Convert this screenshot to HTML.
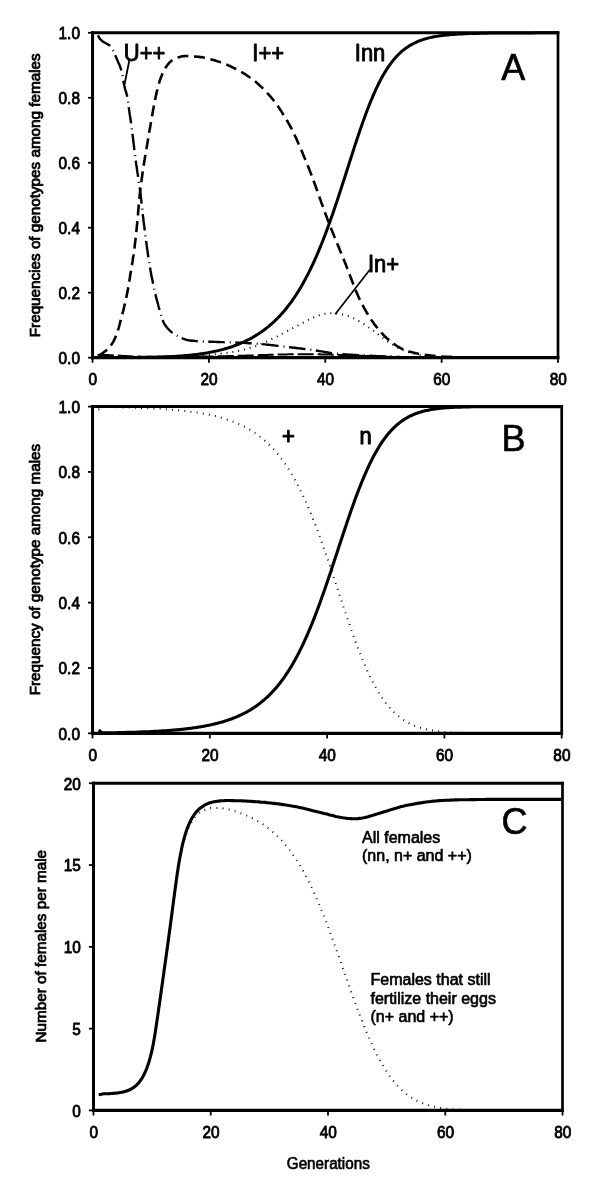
<!DOCTYPE html>
<html><head><meta charset="utf-8"><title>Figure</title>
<style>
html,body{margin:0;padding:0;background:#fff;}
body{width:600px;height:1196px;position:relative;overflow:hidden;font-family:"Liberation Sans",sans-serif;}
svg{filter:grayscale(1);}
svg text{font-family:"Liberation Sans",sans-serif;stroke:#000;stroke-width:0.65px;stroke-linejoin:round;}
.tk line{stroke:#000;}
</style></head><body>
<svg width="600" height="1196" viewBox="0 0 600 1196" style="position:absolute;left:0;top:0">
<rect width="600" height="1196" fill="#fff"/>
<g font-family="'Liberation Sans', sans-serif" fill="#000" stroke="none">
<g fill="none" stroke="#000" stroke-linejoin="round">
<path d="M150.0 357.0L151.5 357.0L153.0 357.0L154.5 357.0L156.0 357.0L157.5 356.9L159.0 356.9L160.5 356.9L162.0 356.9L163.5 356.8L165.0 356.8L166.5 356.7L168.0 356.7L169.5 356.7L171.0 356.6L172.5 356.6L174.0 356.5L175.5 356.4L177.0 356.4L178.5 356.3L180.0 356.3L181.5 356.2L183.0 356.1L184.5 356.1L186.0 356.0L187.5 355.9L189.0 355.8L190.5 355.8L192.0 355.7L193.5 355.6L195.0 355.6L196.5 355.5L198.0 355.4L199.5 355.3L201.0 355.2L202.5 355.2L204.0 355.1L205.5 355.0L207.0 354.9L208.4 354.8L209.9 354.7L211.4 354.5L212.9 354.4L214.4 354.3L215.9 354.2L217.4 354.0L218.9 353.9L220.4 353.7L221.9 353.5L223.4 353.4L224.9 353.2L226.4 353.0L227.8 352.8L229.3 352.6L230.8 352.3L232.3 352.1L233.8 351.8L235.2 351.5L236.7 351.2L238.2 350.9L239.6 350.6L241.1 350.3L242.6 349.9L244.0 349.6L245.5 349.2L246.9 348.8L248.4 348.4L249.8 348.0L251.2 347.6L252.7 347.1L254.1 346.7L255.5 346.2L256.9 345.6L258.3 345.1L259.7 344.5L261.1 343.9L262.5 343.3L263.8 342.7L265.2 342.1L266.6 341.5L267.9 340.8L269.3 340.2L270.6 339.6L272.0 338.9L273.3 338.3L274.7 337.6L276.0 337.0L277.4 336.3L278.7 335.6L280.1 335.0L281.4 334.3L282.7 333.6L284.0 332.9L285.4 332.1L286.7 331.4L288.0 330.7L289.3 330.0L290.6 329.2L291.9 328.5L293.2 327.8L294.6 327.1L295.9 326.4L297.2 325.7L298.5 325.0L299.9 324.3L301.2 323.6L302.5 322.9L303.8 322.2L305.2 321.5L306.5 320.8L307.8 320.1L309.2 319.4L310.5 318.7L311.9 318.1L313.2 317.5L314.6 316.9L316.0 316.4L317.4 315.9L318.9 315.4L320.3 315.0L321.7 314.6L323.2 314.2L324.6 313.8L326.1 313.6L327.6 313.3L329.1 313.2L330.5 313.2L332.0 313.2L333.5 313.2L335.0 313.4L336.5 313.5L338.0 313.7L339.5 313.9L341.0 314.2L342.4 314.5L343.9 314.8L345.3 315.2L346.8 315.6L348.2 316.1L349.6 316.6L351.0 317.2L352.3 317.8L353.7 318.4L355.1 319.1L356.4 319.8L357.7 320.5L359.0 321.2L360.3 321.9L361.6 322.7L362.9 323.5L364.1 324.3L365.4 325.1L366.6 326.0L367.9 326.8L369.1 327.7L370.3 328.5L371.6 329.4L372.8 330.2L374.0 331.1L375.2 332.0L376.4 332.9L377.6 333.8L378.8 334.7L380.0 335.6L381.2 336.6L382.4 337.5L383.6 338.4L384.8 339.3L386.0 340.2L387.2 341.0L388.4 341.9L389.7 342.7L390.9 343.6L392.2 344.4L393.5 345.1L394.8 345.9L396.0 346.7L397.4 347.4L398.7 348.1L400.0 348.8L401.4 349.4L402.7 350.0L404.1 350.6L405.5 351.1L406.9 351.6L408.4 352.1L409.8 352.6L411.2 353.0L412.7 353.4L414.1 353.7L415.6 354.1L417.1 354.4L418.5 354.7L420.0 355.0L421.5 355.3L422.9 355.5L424.4 355.8L425.9 356.0L427.4 356.2L428.9 356.4L429.9 356.5" stroke-width="2.0" stroke-dasharray="1 4.9" stroke="#000"/>
<path d="M97.9 35.4L98.6 36.7L99.4 38.0L100.3 39.2L101.3 40.3L102.4 41.2L103.7 42.1L105.0 42.8L106.3 43.5L107.6 44.2L108.9 45.0L110.0 45.9L111.0 47.0L111.9 48.2L112.6 49.5L113.3 50.9L114.0 52.2L114.6 53.6L115.2 55.0L115.7 56.3L116.3 57.7L116.9 59.1L117.5 60.5L118.1 61.9L118.7 63.2L119.3 64.6L119.9 66.0L120.4 67.4L120.9 68.8L121.3 70.2L121.8 71.7L122.1 73.1L122.4 74.6L122.7 76.1L122.9 77.6L123.1 79.0L123.3 80.5L123.6 82.0L123.8 83.5L124.1 85.0L124.5 86.4L124.8 87.9L125.2 89.3L125.7 90.8L126.1 92.2L126.5 93.6L126.9 95.1L127.2 96.6L127.5 98.0L127.7 99.5L127.9 101.0L128.1 102.5L128.3 104.0L128.5 105.5L128.7 106.9L128.9 108.4L129.1 109.9L129.3 111.4L129.5 112.9L129.7 114.4L130.0 115.8L130.2 117.3L130.4 118.8L130.7 120.3L130.9 121.8L131.1 123.3L131.3 124.8L131.5 126.2L131.7 127.7L131.9 129.2L132.1 130.7L132.3 132.2L132.5 133.7L132.6 135.2L132.8 136.7L133.0 138.1L133.2 139.6L133.4 141.1L133.5 142.6L133.7 144.1L133.9 145.6L134.1 147.1L134.2 148.6L134.4 150.1L134.6 151.5L134.8 153.0L135.0 154.5L135.2 156.0L135.3 157.5L135.5 159.0L135.7 160.5L135.9 162.0L136.1 163.5L136.3 164.9L136.6 166.4L136.8 167.9L137.0 169.4L137.2 170.9L137.4 172.4L137.7 173.8L137.9 175.3L138.1 176.8L138.3 178.3L138.6 179.8L138.8 181.3L139.0 182.7L139.2 184.2L139.4 185.7L139.6 187.2L139.8 188.7L140.0 190.2L140.2 191.7L140.4 193.1L140.6 194.6L140.7 196.1L140.9 197.6L141.1 199.1L141.3 200.6L141.4 202.1L141.6 203.6L141.8 205.1L141.9 206.6L142.1 208.0L142.2 209.5L142.4 211.0L142.6 212.5L142.7 214.0L142.9 215.5L143.1 217.0L143.3 218.5L143.4 220.0L143.6 221.5L143.8 222.9L144.0 224.4L144.2 225.9L144.4 227.4L144.6 228.9L144.7 230.4L144.9 231.9L145.1 233.4L145.3 234.9L145.5 236.3L145.7 237.8L145.9 239.3L146.1 240.8L146.3 242.3L146.5 243.8L146.7 245.3L146.9 246.8L147.1 248.2L147.3 249.7L147.5 251.2L147.7 252.7L147.9 254.2L148.1 255.7L148.3 257.1L148.6 258.6L148.8 260.1L149.0 261.6L149.3 263.1L149.5 264.6L149.8 266.0L150.0 267.5L150.3 269.0L150.5 270.5L150.8 271.9L151.1 273.4L151.3 274.9L151.6 276.4L151.9 277.8L152.2 279.3L152.5 280.8L152.8 282.3L153.1 283.7L153.4 285.2L153.7 286.7L154.0 288.1L154.3 289.6L154.7 291.1L155.0 292.5L155.3 294.0L155.7 295.4L156.0 296.9L156.4 298.4L156.8 299.8L157.2 301.3L157.6 302.7L158.0 304.2L158.3 305.6L158.7 307.0L159.1 308.5L159.5 309.9L159.9 311.4L160.4 312.8L160.8 314.3L161.2 315.7L161.7 317.1L162.1 318.5L162.6 320.0L163.2 321.4L163.8 322.7L164.5 324.1L165.3 325.3L166.2 326.5L167.1 327.7L168.1 328.8L169.1 329.9L170.2 331.0L171.3 331.9L172.5 332.9L173.7 333.7L175.0 334.6L176.3 335.3L177.6 336.0L178.9 336.7L180.3 337.4L181.6 338.0L183.0 338.6L184.4 339.1L185.8 339.6L187.3 340.0L188.8 340.3L190.2 340.5L191.7 340.7L193.2 340.8L194.7 340.9L196.2 341.1L197.7 341.2L199.2 341.3L200.7 341.3L202.2 341.4L203.7 341.5L205.2 341.6L206.7 341.6L208.2 341.7L209.7 341.7L211.2 341.8L212.7 341.8L214.2 341.9L215.7 341.9L217.2 342.0L218.7 342.0L220.2 342.1L221.7 342.1L223.2 342.1L224.7 342.2L226.2 342.2L227.7 342.3L229.2 342.3L230.7 342.4L232.2 342.4L233.7 342.5L235.2 342.5L236.7 342.6L238.2 342.6L239.7 342.7L241.2 342.8L242.7 342.8L244.2 342.9L245.7 343.0L247.2 343.1L248.7 343.2L250.2 343.3L251.7 343.4L253.2 343.5L254.6 343.6L256.1 343.7L257.6 343.8L259.1 343.9L260.6 344.0L262.1 344.1L263.6 344.3L265.1 344.4L266.6 344.6L268.1 344.7L269.6 344.9L271.1 345.1L272.6 345.2L274.1 345.4L275.5 345.6L277.0 345.8L278.5 345.9L280.0 346.1L281.5 346.3L283.0 346.5L284.5 346.6L286.0 346.8L287.5 347.0L289.0 347.2L290.4 347.3L291.9 347.5L293.4 347.7L294.9 347.8L296.4 348.0L297.9 348.2L299.4 348.4L300.9 348.5L302.4 348.7L303.9 348.9L305.3 349.1L306.8 349.3L308.3 349.5L309.8 349.6L311.3 349.8L312.8 350.0L314.3 350.3L315.7 350.5L317.2 350.7L318.7 350.9L320.2 351.2L321.7 351.4L323.1 351.7L324.6 352.0L326.1 352.2L327.6 352.4L329.1 352.7L330.6 352.9L332.0 353.1L333.5 353.3L335.0 353.5L336.5 353.6L338.0 353.8L339.5 353.9L341.0 354.0L342.5 354.2L344.0 354.3L345.5 354.4L347.0 354.5L348.5 354.6L350.0 354.7L351.5 354.8L353.0 354.9L354.5 355.0L356.0 355.0L357.4 355.1L358.9 355.2L360.4 355.3L361.9 355.4L363.4 355.4L364.9 355.5L366.4 355.6L367.9 355.7L369.4 355.7L370.9 355.8L372.4 355.9L373.9 355.9L375.4 356.0L376.9 356.1L378.4 356.2L379.9 356.2L381.4 356.3L382.9 356.4L384.4 356.4L385.9 356.5L387.4 356.5L388.9 356.6L390.4 356.7L391.9 356.7L393.4 356.8L394.9 356.8L396.4 356.9L397.9 356.9L399.4 357.0L399.9 357.0" stroke-width="2.4" stroke-dasharray="16.5 5 1 4.5" stroke-dashoffset="0"/>
<path d="M97.8 355.5L99.2 355.0L100.6 354.3L101.9 353.6L103.1 352.8L104.3 351.9L105.5 351.0L106.6 350.0L107.7 349.0L108.8 347.9L109.8 346.8L110.7 345.6L111.6 344.4L112.4 343.1L113.2 341.9L113.9 340.5L114.6 339.2L115.2 337.8L115.7 336.4L116.3 335.0L116.8 333.6L117.3 332.2L117.8 330.8L118.2 329.4L118.7 327.9L119.1 326.5L119.5 325.0L119.8 323.6L120.2 322.1L120.6 320.7L121.0 319.2L121.4 317.8L121.8 316.3L122.2 314.9L122.5 313.4L122.9 312.0L123.3 310.5L123.6 309.1L124.0 307.6L124.3 306.2L124.7 304.7L125.0 303.2L125.4 301.8L125.7 300.3L126.0 298.9L126.3 297.4L126.6 295.9L126.9 294.5L127.2 293.0L127.5 291.5L127.8 290.0L128.1 288.6L128.3 287.1L128.6 285.6L128.8 284.1L129.0 282.6L129.3 281.2L129.5 279.7L129.8 278.2L130.0 276.7L130.2 275.2L130.5 273.8L130.7 272.3L131.0 270.8L131.3 269.3L131.5 267.8L131.7 266.4L132.0 264.9L132.2 263.4L132.5 261.9L132.7 260.4L132.9 259.0L133.1 257.5L133.4 256.0L133.6 254.5L133.8 253.0L134.0 251.5L134.2 250.0L134.4 248.6L134.6 247.1L134.8 245.6L134.9 244.1L135.1 242.6L135.3 241.1L135.5 239.6L135.6 238.1L135.8 236.6L135.9 235.2L136.1 233.7L136.3 232.2L136.4 230.7L136.6 229.2L136.7 227.7L136.9 226.2L137.0 224.7L137.2 223.2L137.3 221.7L137.4 220.2L137.6 218.7L137.7 217.2L137.8 215.7L138.0 214.2L138.1 212.8L138.2 211.3L138.3 209.8L138.5 208.3L138.6 206.8L138.7 205.3L138.9 203.8L139.0 202.3L139.2 200.8L139.3 199.3L139.4 197.8L139.6 196.3L139.7 194.8L139.9 193.3L140.1 191.8L140.3 190.4L140.4 188.9L140.6 187.4L140.8 185.9L141.0 184.4L141.2 182.9L141.4 181.4L141.6 179.9L141.8 178.5L142.0 177.0L142.2 175.5L142.4 174.0L142.6 172.5L142.8 171.0L143.1 169.5L143.3 168.1L143.5 166.6L143.7 165.1L144.0 163.6L144.2 162.1L144.4 160.7L144.7 159.2L144.9 157.7L145.2 156.2L145.4 154.7L145.7 153.3L145.9 151.8L146.2 150.3L146.4 148.8L146.7 147.3L146.9 145.9L147.2 144.4L147.4 142.9L147.7 141.4L147.9 139.9L148.2 138.5L148.4 137.0L148.7 135.5L148.9 134.0L149.2 132.6L149.4 131.1L149.7 129.6L150.0 128.1L150.2 126.6L150.5 125.2L150.7 123.7L151.0 122.2L151.2 120.7L151.5 119.3L151.7 117.8L152.0 116.3L152.3 114.8L152.5 113.3L152.8 111.9L153.0 110.4L153.3 108.9L153.6 107.4L153.8 106.0L154.1 104.5L154.4 103.0L154.7 101.5L155.0 100.1L155.3 98.6L155.6 97.1L155.9 95.7L156.3 94.2L156.6 92.7L156.9 91.3L157.3 89.8L157.6 88.4L158.0 86.9L158.4 85.5L158.8 84.0L159.2 82.6L159.6 81.1L160.1 79.7L160.6 78.3L161.2 76.9L161.7 75.5L162.3 74.1L162.9 72.8L163.5 71.4L164.2 70.1L164.9 68.8L165.7 67.5L166.6 66.2L167.4 65.0L168.4 63.8L169.4 62.7L170.4 61.7L171.6 60.7L172.8 59.9L174.1 59.2L175.5 58.5L176.9 57.9L178.2 57.4L179.7 56.9L181.1 56.5L182.6 56.3L184.1 56.1L185.6 56.0L187.1 56.0L188.6 56.1L190.1 56.2L191.6 56.2L193.1 56.4L194.5 56.5L196.0 56.6L197.5 56.8L199.0 56.9L200.5 57.1L202.0 57.3L203.5 57.5L205.0 57.8L206.4 58.2L207.9 58.5L209.3 58.9L210.8 59.3L212.2 59.7L213.7 60.1L215.1 60.5L216.5 61.0L218.0 61.4L219.4 61.9L220.8 62.4L222.2 62.9L223.6 63.4L225.0 64.0L226.4 64.5L227.8 65.1L229.1 65.7L230.5 66.3L231.9 67.0L233.2 67.6L234.6 68.3L235.9 69.0L237.2 69.7L238.6 70.4L239.9 71.1L241.2 71.9L242.5 72.6L243.7 73.4L245.0 74.2L246.3 75.0L247.5 75.8L248.8 76.7L250.0 77.5L251.2 78.4L252.4 79.3L253.6 80.2L254.8 81.1L256.0 82.1L257.1 83.1L258.2 84.0L259.3 85.1L260.4 86.1L261.5 87.1L262.6 88.1L263.7 89.2L264.7 90.3L265.8 91.4L266.8 92.5L267.8 93.6L268.8 94.7L269.8 95.8L270.8 96.9L271.7 98.1L272.7 99.2L273.6 100.4L274.5 101.6L275.5 102.8L276.3 104.0L277.2 105.2L278.1 106.4L278.9 107.7L279.8 108.9L280.6 110.2L281.4 111.4L282.2 112.7L283.0 114.0L283.8 115.2L284.6 116.5L285.4 117.8L286.2 119.1L286.9 120.4L287.7 121.7L288.4 123.0L289.1 124.3L289.9 125.6L290.6 126.9L291.3 128.2L292.0 129.6L292.6 130.9L293.3 132.3L294.0 133.6L294.6 135.0L295.2 136.3L295.9 137.7L296.5 139.0L297.1 140.4L297.7 141.8L298.3 143.2L298.9 144.5L299.5 145.9L300.1 147.3L300.7 148.7L301.3 150.0L301.9 151.4L302.5 152.8L303.0 154.2L303.6 155.6L304.2 157.0L304.8 158.3L305.3 159.7L305.9 161.1L306.5 162.5L307.0 163.9L307.6 165.3L308.2 166.7L308.7 168.1L309.3 169.5L309.8 170.9L310.4 172.3L310.9 173.7L311.5 175.1L312.0 176.5L312.5 177.9L313.0 179.3L313.5 180.7L314.1 182.1L314.6 183.5L315.1 184.9L315.6 186.3L316.1 187.7L316.6 189.1L317.1 190.6L317.6 192.0L318.1 193.4L318.6 194.8L319.1 196.2L319.6 197.6L320.1 199.0L320.6 200.4L321.1 201.9L321.6 203.3L322.2 204.7L322.7 206.1L323.2 207.5L323.7 208.9L324.2 210.3L324.7 211.7L325.2 213.1L325.7 214.6L326.3 216.0L326.8 217.4L327.3 218.8L327.9 220.2L328.4 221.6L328.9 223.0L329.5 224.4L330.0 225.8L330.6 227.2L331.1 228.5L331.7 229.9L332.2 231.3L332.8 232.7L333.4 234.1L333.9 235.5L334.5 236.9L335.1 238.3L335.6 239.7L336.2 241.1L336.8 242.4L337.3 243.8L337.9 245.2L338.5 246.6L339.1 248.0L339.6 249.4L340.2 250.8L340.8 252.2L341.3 253.5L341.9 254.9L342.5 256.3L343.1 257.7L343.6 259.1L344.2 260.5L344.7 261.9L345.3 263.3L345.9 264.7L346.4 266.1L346.9 267.5L347.5 268.9L348.0 270.3L348.6 271.7L349.1 273.1L349.6 274.5L350.1 275.9L350.7 277.3L351.2 278.7L351.7 280.1L352.3 281.5L352.8 282.9L353.3 284.3L353.9 285.7L354.4 287.1L355.0 288.5L355.5 289.9L356.1 291.3L356.7 292.6L357.3 294.0L357.9 295.4L358.5 296.8L359.1 298.1L359.8 299.5L360.4 300.8L361.1 302.2L361.8 303.5L362.5 304.8L363.2 306.1L363.9 307.5L364.6 308.8L365.4 310.1L366.1 311.4L366.8 312.7L367.6 314.0L368.4 315.3L369.2 316.5L370.0 317.8L370.8 319.1L371.6 320.3L372.5 321.5L373.4 322.8L374.2 324.0L375.1 325.2L376.1 326.4L377.0 327.5L377.9 328.7L378.9 329.9L379.9 331.0L380.9 332.1L381.9 333.2L382.9 334.3L383.9 335.4L385.0 336.5L386.1 337.5L387.2 338.6L388.3 339.5L389.4 340.5L390.6 341.5L391.8 342.4L393.0 343.3L394.2 344.1L395.4 345.0L396.7 345.8L398.0 346.6L399.2 347.4L400.6 348.1L401.9 348.7L403.3 349.3L404.7 349.9L406.1 350.4L407.5 350.9L408.9 351.4L410.4 351.8L411.8 352.2L413.3 352.6L414.7 352.9L416.2 353.3L417.7 353.6L419.1 353.8L420.6 354.1L422.1 354.4L423.6 354.6L425.0 354.9L426.5 355.1L428.0 355.3L429.5 355.4L431.0 355.6L432.5 355.8L434.0 355.9L435.5 356.0L437.0 356.2L438.5 356.3L440.0 356.4L441.5 356.5L443.0 356.6L444.5 356.7L445.9 356.7L447.4 356.8L448.9 356.9L450.4 356.9L451.9 357.0L453.4 357.0L454.9 357.1L456.4 357.1L457.9 357.2L459.4 357.2L459.9 357.2" stroke-width="2.6" stroke-dasharray="11 5.7"/>
<path d="M97.8 354.9L99.3 354.9L100.8 354.9L102.3 355.0L103.8 355.0L105.3 355.0L106.8 355.1L108.3 355.1L109.8 355.2L111.3 355.2L112.8 355.3L114.3 355.4L115.8 355.4L117.3 355.5L118.8 355.6L120.3 355.7L121.8 355.8L123.3 355.9L124.8 356.0L126.3 356.1L127.8 356.2L129.3 356.2L130.8 356.3L132.3 356.4L133.8 356.4L135.3 356.5L136.8 356.5L138.3 356.6L139.8 356.6L141.3 356.7L142.8 356.7L144.3 356.7L145.8 356.8L147.3 356.8L148.8 356.8L150.3 356.8L151.8 356.8L153.3 356.8L154.8 356.8L156.3 356.8L157.8 356.8L159.3 356.8L160.8 356.8L162.3 356.8L163.8 356.8L165.3 356.8L166.8 356.8L168.3 356.8L169.8 356.8L171.3 356.8L172.8 356.8L174.3 356.7L175.8 356.7L177.3 356.7L178.8 356.7L180.3 356.7L181.8 356.7L183.3 356.7L184.8 356.7L186.3 356.7L187.8 356.7L189.3 356.7L190.8 356.7L192.3 356.7L193.8 356.6L195.3 356.6L196.8 356.6L198.3 356.6L199.8 356.6L201.3 356.6L202.8 356.6L204.3 356.6L205.8 356.5L207.3 356.5L208.8 356.5L210.3 356.5L211.8 356.5L213.3 356.4L214.8 356.4L216.3 356.4L217.8 356.3L219.3 356.3L220.8 356.3L222.3 356.2L223.8 356.2L225.3 356.2L226.8 356.1L228.3 356.1L229.7 356.1L231.2 356.0L232.7 356.0L234.2 355.9L235.7 355.9L237.2 355.9L238.7 355.8L240.2 355.8L241.7 355.7L243.2 355.7L244.7 355.7L246.2 355.6L247.7 355.6L249.2 355.5L250.7 355.5L252.2 355.4L253.7 355.4L255.2 355.3L256.7 355.2L258.2 355.2L259.7 355.1L261.2 355.1L262.7 355.0L264.2 355.0L265.7 354.9L267.2 354.9L268.7 354.8L270.2 354.8L271.7 354.7L273.2 354.7L274.7 354.7L276.2 354.6L277.7 354.6L279.2 354.5L280.7 354.5L282.2 354.4L283.7 354.4L285.2 354.4L286.7 354.4L288.2 354.3L289.7 354.3L291.2 354.3L292.7 354.3L294.2 354.3L295.7 354.3L297.2 354.2L298.7 354.2L300.2 354.2L301.7 354.2L303.2 354.2L304.7 354.2L306.2 354.2L307.7 354.2L309.2 354.2L310.7 354.2L312.2 354.2L313.7 354.2L315.2 354.3L316.7 354.3L318.2 354.3L319.7 354.3L321.2 354.4L322.7 354.4L324.2 354.4L325.7 354.5L327.2 354.5L328.7 354.6L330.2 354.6L331.7 354.7L333.2 354.7L334.7 354.7L336.2 354.8L337.7 354.8L339.2 354.9L340.7 354.9L342.2 355.0L343.7 355.1L345.2 355.1L346.7 355.2L348.2 355.2L349.7 355.3L351.2 355.3L352.7 355.4L354.2 355.5L355.7 355.5L357.2 355.6L358.7 355.7L360.2 355.7L361.7 355.8L363.2 355.8L364.7 355.9L366.2 356.0L367.7 356.0L369.2 356.1L370.7 356.2L372.2 356.2L373.7 356.3L375.2 356.3L376.7 356.4L378.2 356.4L379.7 356.5L381.2 356.5L382.7 356.6L384.2 356.6L385.7 356.7L387.2 356.7L388.7 356.7L390.2 356.8L391.7 356.8L393.2 356.9L394.7 356.9L396.2 356.9L397.7 357.0L399.2 357.0L400.7 357.0L402.2 357.1L403.7 357.1L405.2 357.1L406.7 357.1L408.2 357.2L409.7 357.2L409.9 357.2" stroke-width="2.0" stroke-dasharray="16 4"/>
<path d="M98.0 357.6L99.0 357.6L100.0 357.6L101.0 357.6L102.0 357.6L103.0 357.6L104.0 357.6L105.0 357.6L106.0 357.6L107.0 357.6L108.0 357.6L109.0 357.6L110.0 357.6L111.0 357.6L112.0 357.6L113.0 357.6L114.0 357.6L115.0 357.6L116.0 357.6L117.0 357.6L118.0 357.6L119.0 357.6L120.0 357.6L121.0 357.6L122.0 357.6L123.0 357.6L124.0 357.6L125.0 357.6L126.0 357.6L127.0 357.5L128.0 357.5L129.0 357.5L130.0 357.5L131.0 357.5L132.0 357.5L133.0 357.5L134.0 357.5L135.0 357.5L136.0 357.5L137.0 357.5L138.0 357.5L139.0 357.5L140.0 357.4L141.0 357.4L142.0 357.4L143.0 357.4L144.0 357.4L145.0 357.4L146.0 357.4L147.0 357.3L148.0 357.3L149.0 357.3L150.0 357.3L151.0 357.3L152.0 357.2L153.0 357.2L154.0 357.2L155.0 357.2L156.0 357.1L157.0 357.1L158.0 357.1L159.0 357.1L160.0 357.0L161.0 357.0L162.0 357.0L163.0 356.9L164.0 356.9L165.0 356.8L166.0 356.8L167.0 356.8L168.0 356.7L169.0 356.7L170.0 356.6L171.0 356.6L172.0 356.5L173.0 356.5L174.0 356.4L175.0 356.4L176.0 356.3L177.0 356.2L178.0 356.2L179.0 356.1L180.0 356.0L181.0 356.0L182.0 355.9L183.0 355.8L184.0 355.7L185.0 355.6L186.0 355.5L187.0 355.5L188.0 355.4L189.0 355.3L190.0 355.2L191.0 355.1L192.0 355.0L193.0 354.8L194.0 354.7L195.0 354.6L196.0 354.5L197.0 354.4L198.0 354.2L199.0 354.1L200.0 354.0L201.0 353.8L202.0 353.7L203.0 353.5L204.0 353.4L205.0 353.2L206.0 353.0L207.0 352.9L208.0 352.7L209.0 352.5L210.0 352.3L211.0 352.1L212.0 351.9L213.0 351.7L214.0 351.5L215.0 351.3L216.0 351.1L217.0 350.9L218.0 350.6L219.0 350.4L220.0 350.1L221.0 349.9L222.0 349.6L223.0 349.4L224.0 349.1L225.0 348.8L226.0 348.5L227.0 348.2L228.0 347.9L229.0 347.6L230.0 347.3L231.0 347.0L232.0 346.6L233.0 346.3L234.0 345.9L235.0 345.5L236.0 345.2L237.0 344.8L238.0 344.4L239.0 344.0L240.0 343.6L241.0 343.2L242.0 342.7L243.0 342.3L244.0 341.8L245.0 341.4L246.0 340.9L247.0 340.4L248.0 339.9L249.0 339.4L250.0 338.9L251.0 338.3L252.0 337.8L253.0 337.2L254.0 336.6L255.0 336.0L256.0 335.4L257.0 334.8L258.0 334.2L259.0 333.5L260.0 332.8L261.0 332.2L262.0 331.5L263.0 330.8L264.0 330.0L265.0 329.3L266.0 328.5L267.0 327.7L268.0 326.9L269.0 326.1L270.0 325.2L271.0 324.4L272.0 323.5L273.0 322.6L274.0 321.7L275.0 320.7L276.0 319.8L277.0 318.8L278.0 317.8L279.0 316.7L280.0 315.7L281.0 314.6L282.0 313.5L283.0 312.3L284.0 311.2L285.0 310.0L286.0 308.8L287.0 307.5L288.0 306.2L289.0 304.9L290.0 303.6L291.0 302.3L292.0 300.9L293.0 299.4L294.0 298.0L295.0 296.5L296.0 295.0L297.0 293.4L298.0 291.9L299.0 290.2L300.0 288.6L301.0 286.9L302.0 285.2L303.0 283.4L304.0 281.6L305.0 279.8L306.0 277.9L307.0 276.0L308.0 274.1L309.0 272.1L310.0 270.1L311.0 268.0L312.0 265.9L313.0 263.8L314.0 261.6L315.0 259.4L316.0 257.1L317.0 254.8L318.0 252.5L319.0 250.1L320.0 247.7L321.0 245.2L322.0 242.7L323.0 240.2L324.0 237.6L325.0 235.0L326.0 232.4L327.0 229.7L328.0 227.0L329.0 224.2L330.0 221.4L331.0 218.6L332.0 215.8L333.0 212.9L334.0 210.0L335.0 207.0L336.0 204.1L337.0 201.1L338.0 198.1L339.0 195.0L340.0 192.0L341.0 188.9L342.0 185.8L343.0 182.7L344.0 179.6L345.0 176.5L346.0 173.3L347.0 170.2L348.0 167.1L349.0 163.9L350.0 160.8L351.0 157.7L352.0 154.6L353.0 151.5L354.0 148.4L355.0 145.3L356.0 142.3L357.0 139.2L358.0 136.2L359.0 133.3L360.0 130.3L361.0 127.4L362.0 124.5L363.0 121.7L364.0 118.9L365.0 116.2L366.0 113.5L367.0 110.8L368.0 108.2L369.0 105.6L370.0 103.1L371.0 100.7L372.0 98.3L373.0 95.9L374.0 93.6L375.0 91.4L376.0 89.2L377.0 87.1L378.0 85.0L379.0 83.0L380.0 81.0L381.0 79.1L382.0 77.3L383.0 75.5L384.0 73.8L385.0 72.1L386.0 70.5L387.0 68.9L388.0 67.4L389.0 65.9L390.0 64.5L391.0 63.2L392.0 61.8L393.0 60.6L394.0 59.4L395.0 58.2L396.0 57.1L397.0 56.0L398.0 55.0L399.0 54.0L400.0 53.0L401.0 52.1L402.0 51.2L403.0 50.4L404.0 49.6L405.0 48.8L406.0 48.1L407.0 47.4L408.0 46.7L409.0 46.1L410.0 45.4L411.0 44.9L412.0 44.3L413.0 43.8L414.0 43.2L415.0 42.8L416.0 42.3L417.0 41.8L418.0 41.4L419.0 41.0L420.0 40.6L421.0 40.3L422.0 39.9L423.0 39.6L424.0 39.2L425.0 38.9L426.0 38.7L427.0 38.4L428.0 38.1L429.0 37.9L430.0 37.6L431.0 37.4L432.0 37.2L433.0 37.0L434.0 36.8L435.0 36.6L436.0 36.4L437.0 36.3L438.0 36.1L439.0 35.9L440.0 35.8L441.0 35.7L442.0 35.5L443.0 35.4L444.0 35.3L445.0 35.2L446.0 35.1L447.0 35.0L448.0 34.9L449.0 34.8L450.0 34.7L451.0 34.6L452.0 34.5L453.0 34.4L454.0 34.4L455.0 34.3L456.0 34.2L457.0 34.2L458.0 34.1L459.0 34.1L460.0 34.0L461.0 33.9L462.0 33.9L463.0 33.9L464.0 33.8L465.0 33.8L466.0 33.7L467.0 33.7L468.0 33.6L469.0 33.6L470.0 33.6L471.0 33.5L472.0 33.5L473.0 33.5L474.0 33.5L475.0 33.4L476.0 33.4L477.0 33.4L478.0 33.4L479.0 33.3L480.0 33.3L481.0 33.3L482.0 33.3L483.0 33.2L484.0 33.2L485.0 33.2L486.0 33.2L487.0 33.2L488.0 33.2L489.0 33.1L490.0 33.1L491.0 33.1L492.0 33.1L493.0 33.1L494.0 33.1L495.0 33.1L496.0 33.1L497.0 33.0L498.0 33.0L499.0 33.0L500.0 33.0L501.0 33.0L502.0 33.0L503.0 33.0L504.0 33.0L505.0 33.0L506.0 33.0L507.0 33.0L508.0 33.0L509.0 32.9L510.0 32.9L511.0 32.9L512.0 32.9L513.0 32.9L514.0 32.9L515.0 32.9L516.0 32.9L517.0 32.9L518.0 32.9L519.0 32.9L520.0 32.9L521.0 32.9L522.0 32.9L523.0 32.9L524.0 32.9L525.0 32.9L526.0 32.9L527.0 32.9L528.0 32.9L529.0 32.9L530.0 32.9L531.0 32.9L532.0 32.9L533.0 32.9L534.0 32.9L535.0 32.8L536.0 32.8L537.0 32.8L538.0 32.8L539.0 32.8L540.0 32.8L541.0 32.8L542.0 32.8L543.0 32.8L544.0 32.8L545.0 32.8L546.0 32.8L547.0 32.8L548.0 32.8L549.0 32.8L550.0 32.8L551.0 32.8L552.0 32.8L553.0 32.8L554.0 32.8L555.0 32.8L556.0 32.8L557.0 32.8" stroke-width="3.0"/>
<line x1="129.2" y1="61" x2="124.5" y2="84.5" stroke-width="1.8"/>
<line x1="370" y1="269.5" x2="335.2" y2="314.2" stroke-width="1.7"/>
<path d="M98.5 409.6L100.2 408.7L102.0 407.3L104.0 407.0L105.0 407.1L106.0 407.1L107.0 407.1L108.0 407.1L109.0 407.1L110.0 407.1L111.0 407.1L112.0 407.2L113.0 407.2L114.0 407.2L115.0 407.2L116.0 407.2L117.0 407.2L118.0 407.3L119.0 407.3L120.0 407.3L121.0 407.3L122.0 407.4L123.0 407.4L124.0 407.4L125.0 407.4L126.0 407.4L127.0 407.5L128.0 407.5L129.0 407.5L130.0 407.6L131.0 407.6L132.0 407.6L133.0 407.6L134.0 407.7L135.0 407.7L136.0 407.7L137.0 407.8L138.0 407.8L139.0 407.8L140.0 407.9L141.0 407.9L142.0 408.0L143.0 408.0L144.0 408.0L145.0 408.1L146.0 408.1L147.0 408.2L148.0 408.2L149.0 408.2L150.0 408.3L151.0 408.3L152.0 408.4L153.0 408.4L154.0 408.5L155.0 408.5L156.0 408.6L157.0 408.7L158.0 408.7L159.0 408.8L160.0 408.8L161.0 408.9L162.0 409.0L163.0 409.0L164.0 409.1L165.0 409.2L166.0 409.2L167.0 409.3L168.0 409.4L169.0 409.4L170.0 409.5L171.0 409.6L172.0 409.7L173.0 409.8L174.0 409.9L175.0 409.9L176.0 410.0L177.0 410.1L178.0 410.2L179.0 410.3L180.0 410.4L181.0 410.5L182.0 410.6L183.0 410.7L184.0 410.8L185.0 410.9L186.0 411.1L187.0 411.2L188.0 411.3L189.0 411.4L190.0 411.6L191.0 411.7L192.0 411.8L193.0 412.0L194.0 412.1L195.0 412.2L196.0 412.4L197.0 412.5L198.0 412.7L199.0 412.9L200.0 413.0L201.0 413.2L202.0 413.4L203.0 413.5L204.0 413.7L205.0 413.9L206.0 414.1L207.0 414.3L208.0 414.5L209.0 414.7L210.0 414.9L211.0 415.1L212.0 415.3L213.0 415.6L214.0 415.8L215.0 416.0L216.0 416.3L217.0 416.5L218.0 416.8L219.0 417.1L220.0 417.3L221.0 417.6L222.0 417.9L223.0 418.2L224.0 418.5L225.0 418.8L226.0 419.1L227.0 419.5L228.0 419.8L229.0 420.1L230.0 420.5L231.0 420.8L232.0 421.2L233.0 421.6L234.0 422.0L235.0 422.4L236.0 422.8L237.0 423.2L238.0 423.7L239.0 424.1L240.0 424.6L241.0 425.0L242.0 425.5L243.0 426.0L244.0 426.5L245.0 427.0L246.0 427.6L247.0 428.1L248.0 428.7L249.0 429.2L250.0 429.8L251.0 430.4L252.0 431.1L253.0 431.7L254.0 432.4L255.0 433.0L256.0 433.7L257.0 434.4L258.0 435.2L259.0 435.9L260.0 436.7L261.0 437.5L262.0 438.3L263.0 439.1L264.0 440.0L265.0 440.8L266.0 441.7L267.0 442.6L268.0 443.6L269.0 444.5L270.0 445.5L271.0 446.6L272.0 447.6L273.0 448.7L274.0 449.8L275.0 450.9L276.0 452.0L277.0 453.2L278.0 454.4L279.0 455.7L280.0 456.9L281.0 458.2L282.0 459.6L283.0 460.9L284.0 462.3L285.0 463.7L286.0 465.2L287.0 466.7L288.0 468.2L289.0 469.8L290.0 471.4L291.0 473.0L292.0 474.7L293.0 476.4L294.0 478.2L295.0 480.0L296.0 481.8L297.0 483.6L298.0 485.5L299.0 487.5L300.0 489.5L301.0 491.5L302.0 493.5L303.0 495.6L304.0 497.8L305.0 500.0L306.0 502.2L307.0 504.4L308.0 506.7L309.0 509.1L310.0 511.5L311.0 513.9L312.0 516.3L313.0 518.8L314.0 521.3L315.0 523.9L316.0 526.5L317.0 529.1L318.0 531.8L319.0 534.5L320.0 537.2L321.0 540.0L322.0 542.8L323.0 545.6L324.0 548.5L325.0 551.3L326.0 554.2L327.0 557.2L328.0 560.1L329.0 563.1L330.0 566.0L331.0 569.0L332.0 572.1L333.0 575.1L334.0 578.1L335.0 581.1L336.0 584.2L337.0 587.2L338.0 590.3L339.0 593.3L340.0 596.4L341.0 599.4L342.0 602.5L343.0 605.5L344.0 608.5L345.0 611.5L346.0 614.5L347.0 617.4L348.0 620.4L349.0 623.3L350.0 626.2L351.0 629.1L352.0 631.9L353.0 634.7L354.0 637.5L355.0 640.3L356.0 643.0L357.0 645.6L358.0 648.3L359.0 650.9L360.0 653.4L361.0 655.9L362.0 658.4L363.0 660.8L364.0 663.2L365.0 665.5L366.0 667.8L367.0 670.1L368.0 672.3L369.0 674.4L370.0 676.5L371.0 678.5L372.0 680.5L373.0 682.5L374.0 684.4L375.0 686.2L376.0 688.0L377.0 689.7L378.0 691.4L379.0 693.1L380.0 694.7L381.0 696.2L382.0 697.7L383.0 699.2L384.0 700.6L385.0 702.0L386.0 703.3L387.0 704.6L388.0 705.8L389.0 707.0L390.0 708.1L391.0 709.2L392.0 710.3L393.0 711.3L394.0 712.3L395.0 713.3L396.0 714.2L397.0 715.1L398.0 715.9L399.0 716.7L400.0 717.5L401.0 718.3L402.0 719.0L403.0 719.7L404.0 720.3L405.0 721.0L406.0 721.6L407.0 722.1L408.0 722.7L409.0 723.2L410.0 723.7L411.0 724.2L412.0 724.7L413.0 725.1L414.0 725.6L415.0 726.0L416.0 726.3L417.0 726.7L418.0 727.1L419.0 727.4L420.0 727.7L421.0 728.0L422.0 728.3L423.0 728.6L424.0 728.8L425.0 729.1L426.0 729.3L427.0 729.5L428.0 729.7L429.0 729.9L430.0 730.1L431.0 730.3L432.0 730.5L433.0 730.6L434.0 730.8L435.0 730.9L436.0 731.1L437.0 731.2L438.0 731.3L439.0 731.4L440.0 731.6L441.0 731.7L442.0 731.8L443.0 731.9L444.0 731.9L445.0 732.0L446.0 732.1L447.0 732.2L448.0 732.2L449.0 732.3L450.0 732.4L451.0 732.4L452.0 732.5L453.0 732.5L454.0 732.6L455.0 732.6L456.0 732.7L457.0 732.7L458.0 732.7L459.0 732.8L460.0 732.8L461.0 732.8L462.0 732.9L463.0 732.9L464.0 732.9L465.0 732.9L466.0 733.0L467.0 733.0L468.0 733.0L469.0 733.0L470.0 733.0L471.0 733.1L472.0 733.1" stroke-width="2.0" stroke-dasharray="0.9 5.3" stroke="#000"/>
<path d="M98.5 730.3L100.2 731.2L102.0 732.6L104.0 732.9L105.0 732.8L106.0 732.8L107.0 732.8L108.0 732.8L109.0 732.8L110.0 732.8L111.0 732.8L112.0 732.7L113.0 732.7L114.0 732.7L115.0 732.7L116.0 732.7L117.0 732.7L118.0 732.6L119.0 732.6L120.0 732.6L121.0 732.6L122.0 732.5L123.0 732.5L124.0 732.5L125.0 732.5L126.0 732.5L127.0 732.4L128.0 732.4L129.0 732.4L130.0 732.3L131.0 732.3L132.0 732.3L133.0 732.3L134.0 732.2L135.0 732.2L136.0 732.2L137.0 732.1L138.0 732.1L139.0 732.1L140.0 732.0L141.0 732.0L142.0 731.9L143.0 731.9L144.0 731.9L145.0 731.8L146.0 731.8L147.0 731.7L148.0 731.7L149.0 731.7L150.0 731.6L151.0 731.6L152.0 731.5L153.0 731.5L154.0 731.4L155.0 731.4L156.0 731.3L157.0 731.2L158.0 731.2L159.0 731.1L160.0 731.1L161.0 731.0L162.0 730.9L163.0 730.9L164.0 730.8L165.0 730.7L166.0 730.7L167.0 730.6L168.0 730.5L169.0 730.5L170.0 730.4L171.0 730.3L172.0 730.2L173.0 730.1L174.0 730.0L175.0 730.0L176.0 729.9L177.0 729.8L178.0 729.7L179.0 729.6L180.0 729.5L181.0 729.4L182.0 729.3L183.0 729.2L184.0 729.1L185.0 729.0L186.0 728.8L187.0 728.7L188.0 728.6L189.0 728.5L190.0 728.3L191.0 728.2L192.0 728.1L193.0 727.9L194.0 727.8L195.0 727.7L196.0 727.5L197.0 727.4L198.0 727.2L199.0 727.0L200.0 726.9L201.0 726.7L202.0 726.5L203.0 726.4L204.0 726.2L205.0 726.0L206.0 725.8L207.0 725.6L208.0 725.4L209.0 725.2L210.0 725.0L211.0 724.8L212.0 724.6L213.0 724.3L214.0 724.1L215.0 723.9L216.0 723.6L217.0 723.4L218.0 723.1L219.0 722.8L220.0 722.6L221.0 722.3L222.0 722.0L223.0 721.7L224.0 721.4L225.0 721.1L226.0 720.8L227.0 720.4L228.0 720.1L229.0 719.8L230.0 719.4L231.0 719.1L232.0 718.7L233.0 718.3L234.0 717.9L235.0 717.5L236.0 717.1L237.0 716.7L238.0 716.2L239.0 715.8L240.0 715.3L241.0 714.9L242.0 714.4L243.0 713.9L244.0 713.4L245.0 712.9L246.0 712.3L247.0 711.8L248.0 711.2L249.0 710.7L250.0 710.1L251.0 709.5L252.0 708.8L253.0 708.2L254.0 707.5L255.0 706.9L256.0 706.2L257.0 705.5L258.0 704.7L259.0 704.0L260.0 703.2L261.0 702.4L262.0 701.6L263.0 700.8L264.0 699.9L265.0 699.1L266.0 698.2L267.0 697.3L268.0 696.3L269.0 695.4L270.0 694.4L271.0 693.3L272.0 692.3L273.0 691.2L274.0 690.1L275.0 689.0L276.0 687.9L277.0 686.7L278.0 685.5L279.0 684.2L280.0 683.0L281.0 681.7L282.0 680.3L283.0 679.0L284.0 677.6L285.0 676.2L286.0 674.7L287.0 673.2L288.0 671.7L289.0 670.1L290.0 668.5L291.0 666.9L292.0 665.2L293.0 663.5L294.0 661.7L295.0 659.9L296.0 658.1L297.0 656.3L298.0 654.4L299.0 652.4L300.0 650.4L301.0 648.4L302.0 646.4L303.0 644.3L304.0 642.1L305.0 639.9L306.0 637.7L307.0 635.5L308.0 633.2L309.0 630.8L310.0 628.4L311.0 626.0L312.0 623.6L313.0 621.1L314.0 618.6L315.0 616.0L316.0 613.4L317.0 610.8L318.0 608.1L319.0 605.4L320.0 602.7L321.0 599.9L322.0 597.1L323.0 594.3L324.0 591.4L325.0 588.6L326.0 585.7L327.0 582.7L328.0 579.8L329.0 576.8L330.0 573.9L331.0 570.9L332.0 567.8L333.0 564.8L334.0 561.8L335.0 558.8L336.0 555.7L337.0 552.7L338.0 549.6L339.0 546.6L340.0 543.5L341.0 540.5L342.0 537.4L343.0 534.4L344.0 531.4L345.0 528.4L346.0 525.4L347.0 522.5L348.0 519.5L349.0 516.6L350.0 513.7L351.0 510.8L352.0 508.0L353.0 505.2L354.0 502.4L355.0 499.6L356.0 496.9L357.0 494.3L358.0 491.6L359.0 489.0L360.0 486.5L361.0 484.0L362.0 481.5L363.0 479.1L364.0 476.7L365.0 474.4L366.0 472.1L367.0 469.8L368.0 467.6L369.0 465.5L370.0 463.4L371.0 461.4L372.0 459.4L373.0 457.4L374.0 455.5L375.0 453.7L376.0 451.9L377.0 450.2L378.0 448.5L379.0 446.8L380.0 445.2L381.0 443.7L382.0 442.2L383.0 440.7L384.0 439.3L385.0 437.9L386.0 436.6L387.0 435.3L388.0 434.1L389.0 432.9L390.0 431.8L391.0 430.7L392.0 429.6L393.0 428.6L394.0 427.6L395.0 426.6L396.0 425.7L397.0 424.8L398.0 424.0L399.0 423.2L400.0 422.4L401.0 421.6L402.0 420.9L403.0 420.2L404.0 419.6L405.0 418.9L406.0 418.3L407.0 417.8L408.0 417.2L409.0 416.7L410.0 416.2L411.0 415.7L412.0 415.2L413.0 414.8L414.0 414.3L415.0 413.9L416.0 413.6L417.0 413.2L418.0 412.8L419.0 412.5L420.0 412.2L421.0 411.9L422.0 411.6L423.0 411.3L424.0 411.1L425.0 410.8L426.0 410.6L427.0 410.4L428.0 410.2L429.0 410.0L430.0 409.8L431.0 409.6L432.0 409.4L433.0 409.3L434.0 409.1L435.0 409.0L436.0 408.8L437.0 408.7L438.0 408.6L439.0 408.5L440.0 408.3L441.0 408.2L442.0 408.1L443.0 408.0L444.0 408.0L445.0 407.9L446.0 407.8L447.0 407.7L448.0 407.7L449.0 407.6L450.0 407.5L451.0 407.5L452.0 407.4L453.0 407.4L454.0 407.3L455.0 407.3L456.0 407.2L457.0 407.2L458.0 407.2L459.0 407.1L460.0 407.1L461.0 407.1L462.0 407.0L463.0 407.0L464.0 407.0L465.0 407.0L466.0 406.9L467.0 406.9L468.0 406.9L469.0 406.9L470.0 406.9L471.0 406.8L472.0 406.8L473.0 406.8L474.0 406.8L475.0 406.8L476.0 406.8L477.0 406.8L478.0 406.8L479.0 406.7L480.0 406.7L481.0 406.7L482.0 406.7L483.0 406.7L484.0 406.7L485.0 406.7L486.0 406.7L487.0 406.7L488.0 406.7L489.0 406.7L490.0 406.7L491.0 406.7L492.0 406.7L493.0 406.7L494.0 406.7L495.0 406.7L496.0 406.7L497.0 406.6L498.0 406.6L499.0 406.6L500.0 406.6L501.0 406.6L502.0 406.6L503.0 406.6L504.0 406.6L505.0 406.6L506.0 406.6L507.0 406.6L508.0 406.6L509.0 406.6L510.0 406.6L511.0 406.6L512.0 406.6L513.0 406.6L514.0 406.6L515.0 406.6L516.0 406.6L517.0 406.6L518.0 406.6L519.0 406.6L520.0 406.6L521.0 406.6L522.0 406.6L523.0 406.6L524.0 406.6L525.0 406.6L526.0 406.6L527.0 406.6L528.0 406.6L529.0 406.6L530.0 406.6L531.0 406.6L532.0 406.6L533.0 406.6L534.0 406.6L535.0 406.6L536.0 406.6L537.0 406.6L538.0 406.6L539.0 406.6L540.0 406.6L541.0 406.6L542.0 406.6L543.0 406.6L544.0 406.6L545.0 406.6L546.0 406.6L547.0 406.6L548.0 406.6L549.0 406.6L550.0 406.6L551.0 406.6L552.0 406.6L553.0 406.6L554.0 406.6L555.0 406.6L556.0 406.6L557.0 406.6L558.0 406.6L559.0 406.6L560.0 406.6L561.0 406.6" stroke-width="3.1"/>
<path d="M98.8 1094.6L101.0 1094.3L104.0 1093.8L105.0 1093.8L106.0 1093.8L107.0 1093.8L108.0 1093.7L109.0 1093.7L110.0 1093.6L111.0 1093.6L112.0 1093.5L113.0 1093.4L114.0 1093.4L115.0 1093.3L116.0 1093.2L117.0 1093.0L118.0 1092.9L119.0 1092.8L120.0 1092.6L121.0 1092.4L122.0 1092.3L123.0 1092.0L124.0 1091.8L125.0 1091.5L126.0 1091.2L127.0 1090.9L128.0 1090.5L129.0 1090.1L130.0 1089.6L131.0 1089.1L132.0 1088.6L133.0 1087.9L134.0 1087.3L135.0 1086.5L136.0 1085.6L137.0 1084.7L138.0 1083.7L139.0 1082.5L140.0 1081.2L141.0 1079.8L142.0 1078.3L143.0 1076.5L144.0 1074.6L145.0 1072.6L146.0 1070.3L147.0 1067.7L148.0 1064.9L149.0 1061.9L150.0 1058.4L151.0 1054.6L152.0 1050.3L153.0 1045.5L154.0 1040.1L155.0 1034.2L156.0 1027.8L157.0 1021.1L158.0 1014.2L159.0 1007.3L160.0 1000.3L161.0 993.3L162.0 986.3L163.0 979.2L164.0 972.2L165.0 965.1L166.0 957.9L167.0 950.7L168.0 943.5L169.0 936.2L170.0 928.9L171.0 921.5L172.0 914.0L173.0 906.5L174.0 898.9L175.0 891.5L176.0 884.2L177.0 877.2L178.0 870.6L179.0 864.5L180.0 858.9L181.0 853.8L182.0 849.1L183.0 845.0L184.0 841.2L185.0 837.7L186.0 834.6L187.0 831.8L188.0 829.3L189.0 827.0L190.0 824.9L191.0 823.0L192.0 821.3L193.0 819.8L194.0 818.4L195.0 817.1L196.0 816.0L197.0 814.9L198.0 814.0L199.0 813.1L200.0 812.3L201.0 811.9L202.0 811.2L203.0 810.7L204.0 810.1L205.0 809.7L206.0 809.3L207.0 808.9L208.0 808.7L209.0 808.4L210.0 808.3L211.0 808.1L212.0 808.0L213.0 807.9L214.0 807.9L215.0 807.9L216.0 807.9L217.0 807.9L218.0 807.9L219.0 808.0L220.0 808.1L221.0 808.2L222.0 808.3L223.0 808.4L224.0 808.6L225.0 808.7L226.0 808.9L227.0 809.1L228.0 809.4L229.0 809.6L230.0 809.9L231.0 810.1L232.0 810.4L233.0 810.7L234.0 811.0L235.0 811.3L236.0 811.6L237.0 811.9L238.0 812.2L239.0 812.6L240.0 812.9L241.0 813.3L242.0 813.6L243.0 814.0L244.0 814.4L245.0 814.8L246.0 815.2L247.0 815.7L248.0 816.1L249.0 816.6L250.0 817.0L251.0 817.5L252.0 818.0L253.0 818.5L254.0 819.1L255.0 819.6L256.0 820.1L257.0 820.7L258.0 821.3L259.0 821.9L260.0 822.5L261.0 823.1L262.0 823.8L263.0 824.4L264.0 825.1L265.0 825.8L266.0 826.5L267.0 827.3L268.0 828.0L269.0 828.8L270.0 829.6L271.0 830.4L272.0 831.3L273.0 832.1L274.0 833.0L275.0 833.9L276.0 834.8L277.0 835.8L278.0 836.8L279.0 837.8L280.0 838.8L281.0 839.9L282.0 840.9L283.0 842.1L284.0 843.2L285.0 844.4L286.0 845.6L287.0 846.8L288.0 848.0L289.0 849.3L290.0 850.6L291.0 852.0L292.0 853.4L293.0 854.8L294.0 856.2L295.0 857.7L296.0 859.2L297.0 860.7L298.0 862.3L299.0 863.9L300.0 865.6L301.0 867.3L302.0 869.0L303.0 870.8L304.0 872.6L305.0 874.4L306.0 876.3L307.0 878.3L308.0 880.2L309.0 882.2L310.0 884.3L311.0 886.3L312.0 888.5L313.0 890.6L314.0 892.8L315.0 895.0L316.0 897.2L317.0 899.5L318.0 901.8L319.0 904.1L320.0 906.5L321.0 908.9L322.0 911.3L323.0 913.8L324.0 916.3L325.0 918.8L326.0 921.4L327.0 924.0L328.0 926.7L329.0 929.3L330.0 932.0L331.0 934.8L332.0 937.5L333.0 940.3L334.0 943.1L335.0 945.9L336.0 948.7L337.0 951.5L338.0 954.3L339.0 957.2L340.0 960.0L341.0 962.9L342.0 965.7L343.0 968.6L344.0 971.4L345.0 974.3L346.0 977.2L347.0 980.0L348.0 982.9L349.0 985.7L350.0 988.5L351.0 991.4L352.0 994.2L353.0 996.9L354.0 999.7L355.0 1002.5L356.0 1005.2L357.0 1007.9L358.0 1010.5L359.0 1013.2L360.0 1015.8L361.0 1018.4L362.0 1020.9L363.0 1023.4L364.0 1025.9L365.0 1028.3L366.0 1030.8L367.0 1033.1L368.0 1035.5L369.0 1037.8L370.0 1040.0L371.0 1042.2L372.0 1044.4L373.0 1046.6L374.0 1048.7L375.0 1050.7L376.0 1052.8L377.0 1054.7L378.0 1056.7L379.0 1058.6L380.0 1060.4L381.0 1062.2L382.0 1064.0L383.0 1065.7L384.0 1067.4L385.0 1069.0L386.0 1070.6L387.0 1072.2L388.0 1073.7L389.0 1075.1L390.0 1076.5L391.0 1077.9L392.0 1079.2L393.0 1080.5L394.0 1081.8L395.0 1083.0L396.0 1084.1L397.0 1085.3L398.0 1086.4L399.0 1087.4L400.0 1088.4L401.0 1089.4L402.0 1090.3L403.0 1091.3L404.0 1092.1L405.0 1093.0L406.0 1093.8L407.0 1094.6L408.0 1095.3L409.0 1096.0L410.0 1096.7L411.0 1097.4L412.0 1098.0L413.0 1098.6L414.0 1099.2L415.0 1099.8L416.0 1100.3L417.0 1100.8L418.0 1101.3L419.0 1101.8L420.0 1102.2L421.0 1102.6L422.0 1103.0L423.0 1103.4L424.0 1103.8L425.0 1104.1L426.0 1104.5L427.0 1104.8L428.0 1105.1L429.0 1105.4L430.0 1105.7L431.0 1105.9L432.0 1106.2L433.0 1106.4L434.0 1106.6L435.0 1106.8L436.0 1107.0L437.0 1107.2L438.0 1107.4L439.0 1107.6L440.0 1107.7L441.0 1107.9L442.0 1108.0L443.0 1108.2L444.0 1108.3L445.0 1108.4L446.0 1108.6L447.0 1108.7L448.0 1108.8L449.0 1108.9L450.0 1109.0L451.0 1109.1L452.0 1109.1L453.0 1109.2L454.0 1109.3L455.0 1109.4L456.0 1109.4L457.0 1109.5L458.0 1109.5L459.0 1109.6L460.0 1109.6L461.0 1109.7L462.0 1109.7L463.0 1109.8L464.0 1109.8L465.0 1109.9L466.0 1109.9L467.0 1109.9L468.0 1110.0L469.0 1110.0L470.0 1110.0L471.0 1110.0L472.0 1110.1L473.0 1110.1L474.0 1110.1L475.0 1110.1" stroke-width="2.0" stroke-dasharray="0.9 5.3" stroke="#000"/>
<path d="M98.8 1094.6L101.0 1094.3L104.0 1093.8L104.5 1093.8L105.0 1093.8L105.5 1093.8L106.0 1093.8L106.5 1093.8L107.0 1093.7L107.5 1093.7L108.0 1093.7L108.5 1093.7L109.0 1093.7L109.5 1093.6L110.0 1093.6L110.5 1093.6L111.0 1093.5L111.5 1093.5L112.0 1093.5L112.5 1093.4L113.0 1093.4L113.5 1093.4L114.0 1093.3L114.5 1093.3L115.0 1093.2L115.5 1093.2L116.0 1093.1L116.5 1093.1L117.0 1093.0L117.5 1093.0L118.0 1092.9L118.5 1092.8L119.0 1092.8L119.5 1092.7L120.0 1092.6L120.5 1092.5L121.0 1092.4L121.5 1092.3L122.0 1092.2L122.5 1092.1L123.0 1092.0L123.5 1091.9L124.0 1091.8L124.5 1091.6L125.0 1091.5L125.5 1091.3L126.0 1091.2L126.5 1091.0L127.0 1090.8L127.5 1090.7L128.0 1090.5L128.5 1090.3L129.0 1090.1L129.5 1089.8L130.0 1089.6L130.5 1089.3L131.0 1089.1L131.5 1088.8L132.0 1088.5L132.5 1088.2L133.0 1087.9L133.5 1087.6L134.0 1087.2L134.5 1086.8L135.0 1086.4L135.5 1086.0L136.0 1085.6L136.5 1085.1L137.0 1084.6L137.5 1084.1L138.0 1083.6L138.5 1083.0L139.0 1082.4L139.5 1081.8L140.0 1081.1L140.5 1080.5L141.0 1079.7L141.5 1079.0L142.0 1078.2L142.5 1077.3L143.0 1076.4L143.5 1075.5L144.0 1074.5L144.5 1073.5L145.0 1072.4L145.5 1071.3L146.0 1070.1L146.5 1068.9L147.0 1067.6L147.5 1066.2L148.0 1064.8L148.5 1063.3L149.0 1061.7L149.5 1060.0L150.0 1058.2L150.5 1056.4L151.0 1054.4L151.5 1052.3L152.0 1050.1L152.5 1047.8L153.0 1045.3L153.5 1042.7L154.0 1039.9L154.5 1036.9L155.0 1033.9L155.5 1030.7L156.0 1027.4L156.5 1024.1L157.0 1020.7L157.5 1017.2L158.0 1013.8L158.5 1010.3L159.0 1006.8L159.5 1003.3L160.0 999.8L160.5 996.3L161.0 992.8L161.5 989.2L162.0 985.7L162.5 982.1L163.0 978.6L163.5 975.0L164.0 971.4L164.5 967.9L165.0 964.3L165.5 960.7L166.0 957.1L166.5 953.5L167.0 949.8L167.5 946.2L168.0 942.5L168.5 938.9L169.0 935.2L169.5 931.5L170.0 927.8L170.5 924.0L171.0 920.3L171.5 916.5L172.0 912.7L172.5 908.9L173.0 905.1L173.5 901.3L174.0 897.5L174.5 893.7L175.0 889.9L175.5 886.2L176.0 882.6L176.5 879.0L177.0 875.5L177.5 872.1L178.0 868.8L178.5 865.6L179.0 862.6L179.5 859.7L180.0 856.9L180.5 854.2L181.0 851.7L181.5 849.2L182.0 846.9L182.5 844.7L183.0 842.6L183.5 840.6L184.0 838.7L184.5 836.9L185.0 835.2L185.5 833.6L186.0 832.0L186.5 830.5L187.0 829.1L187.5 827.8L188.0 826.5L188.5 825.3L189.0 824.1L189.5 823.0L190.0 821.9L190.5 820.9L191.0 819.9L191.5 819.0L192.0 818.1L192.5 817.3L193.0 816.5L193.5 815.7L194.0 815.0L194.5 814.3L195.0 813.6L195.5 812.9L196.0 812.3L196.5 811.7L197.0 811.2L197.5 810.6L198.0 810.1L198.5 809.6L199.0 809.1L199.5 808.7L200.0 808.2L200.7 807.8L201.9 806.9L203.2 806.1L204.4 805.3L205.7 804.5L207.1 803.9L208.5 803.3L209.9 802.8L211.3 802.4L212.8 802.1L214.2 801.7L215.7 801.5L217.2 801.3L218.7 801.1L220.2 800.9L221.7 800.8L223.2 800.7L224.6 800.6L226.1 800.5L227.6 800.5L229.1 800.5L230.6 800.5L232.1 800.6L233.6 800.6L235.1 800.7L236.6 800.7L238.1 800.7L239.6 800.8L241.1 800.8L242.6 800.9L244.1 801.0L245.6 801.0L247.1 801.1L248.6 801.2L250.1 801.3L251.6 801.4L253.1 801.5L254.6 801.6L256.1 801.7L257.6 801.8L259.1 801.9L260.6 802.1L262.1 802.2L263.6 802.3L265.1 802.4L266.6 802.6L268.1 802.7L269.6 802.9L271.1 803.0L272.5 803.2L274.0 803.4L275.5 803.6L277.0 803.8L278.5 803.9L280.0 804.1L281.5 804.4L283.0 804.6L284.4 804.8L285.9 805.0L287.4 805.2L288.9 805.5L290.4 805.7L291.8 806.0L293.3 806.2L294.8 806.5L296.3 806.8L297.7 807.1L299.2 807.4L300.7 807.7L302.2 808.0L303.6 808.3L305.1 808.7L306.5 809.0L308.0 809.4L309.4 809.8L310.9 810.2L312.3 810.6L313.8 810.9L315.2 811.3L316.7 811.6L318.2 812.0L319.6 812.3L321.1 812.7L322.5 813.0L324.0 813.4L325.5 813.7L326.9 814.1L328.4 814.5L329.8 814.9L331.3 815.2L332.7 815.6L334.2 816.0L335.6 816.4L337.1 816.7L338.5 817.0L340.0 817.3L341.5 817.5L343.0 817.8L344.5 818.0L345.9 818.2L347.4 818.4L348.9 818.5L350.4 818.6L351.9 818.7L353.4 818.7L354.9 818.7L356.4 818.7L357.9 818.6L359.4 818.4L360.9 818.2L362.4 818.0L363.8 817.7L365.3 817.4L366.8 817.0L368.2 816.7L369.6 816.2L371.1 815.8L372.5 815.4L374.0 814.9L375.4 814.5L376.8 814.1L378.3 813.6L379.7 813.2L381.1 812.7L382.6 812.3L384.0 811.8L385.4 811.4L386.9 811.0L388.3 810.5L389.7 810.1L391.2 809.6L392.6 809.2L394.0 808.8L395.5 808.3L396.9 807.9L398.3 807.4L399.8 807.0L401.2 806.6L402.7 806.3L404.1 805.9L405.6 805.6L407.1 805.3L408.5 805.0L410.0 804.7L411.5 804.4L413.0 804.2L414.4 803.9L415.9 803.6L417.4 803.4L418.9 803.1L420.3 802.9L421.8 802.7L423.3 802.4L424.8 802.2L426.3 802.0L427.8 801.8L429.3 801.7L430.7 801.5L432.2 801.3L433.7 801.1L435.2 801.0L436.7 800.9L438.2 800.7L439.7 800.6L441.2 800.5L442.7 800.5L444.2 800.4L445.7 800.3L447.2 800.2L448.7 800.2L450.2 800.1L451.7 800.1L453.2 800.0L454.7 799.9L456.2 799.9L457.7 799.9L459.2 799.8L460.7 799.8L462.2 799.8L463.7 799.7L465.2 799.7L466.7 799.7L468.2 799.7L469.7 799.6L471.2 799.6L472.7 799.6L474.2 799.6L475.7 799.6L477.2 799.5L478.7 799.5L480.2 799.5L481.7 799.5L483.2 799.5L484.7 799.5L486.2 799.4L487.7 799.4L489.2 799.4L490.7 799.4L492.2 799.4L493.7 799.4L495.2 799.4L496.7 799.4L498.2 799.4L499.7 799.4L501.2 799.4L502.7 799.4L504.2 799.4L505.7 799.4L507.2 799.4L508.7 799.4L510.2 799.4L511.7 799.4L513.2 799.4L514.7 799.4L516.2 799.4L517.7 799.4L519.2 799.4L520.7 799.4L522.2 799.4L523.7 799.4L525.2 799.4L526.7 799.4L528.2 799.4L529.7 799.4L531.2 799.4L532.7 799.4L534.2 799.4L535.7 799.4L537.2 799.4L538.7 799.4L540.2 799.4L541.7 799.4L543.2 799.4L544.7 799.4L546.2 799.4L547.7 799.4L549.2 799.4L550.7 799.4L552.2 799.4L553.7 799.4L555.2 799.4L556.7 799.4L558.2 799.4L559.7 799.4L561.2 799.4L561.4 799.4" stroke-width="3.1"/>
</g>
<g stroke="#000" fill="#000">
<g stroke-linecap="butt">
<line x1="92.55" y1="31.30" x2="92.55" y2="359.25" stroke-width="3.00"/><line x1="91.05" y1="357.65" x2="559.35" y2="357.65" stroke-width="3.20"/><line x1="91.05" y1="32.80" x2="559.35" y2="32.80" stroke-width="3.00"/><line x1="558.00" y1="31.30" x2="558.00" y2="359.25" stroke-width="2.70"/>
<line x1="92.55" y1="405.10" x2="92.55" y2="734.90" stroke-width="3.00"/><line x1="91.05" y1="733.30" x2="563.05" y2="733.30" stroke-width="3.20"/><line x1="91.05" y1="406.60" x2="563.05" y2="406.60" stroke-width="3.00"/><line x1="561.70" y1="405.10" x2="561.70" y2="734.90" stroke-width="2.70"/>
<line x1="93.50" y1="781.75" x2="93.50" y2="1112.00" stroke-width="3.00"/><line x1="92.00" y1="1110.40" x2="563.85" y2="1110.40" stroke-width="3.20"/><line x1="92.00" y1="783.25" x2="563.85" y2="783.25" stroke-width="3.00"/><line x1="562.50" y1="781.75" x2="562.50" y2="1112.00" stroke-width="2.70"/>
</g>
</g>
<g class="tk">
<line x1="87.95" y1="357.65" x2="92.55" y2="357.65" stroke-width="1.8"/><text transform="translate(79.95 363.90) scale(0.905 1)" text-anchor="end" font-size="17.0" style="stroke-width:0.85px">0.0</text><line x1="87.95" y1="292.68" x2="92.55" y2="292.68" stroke-width="1.8"/><text transform="translate(79.95 298.93) scale(0.905 1)" text-anchor="end" font-size="17.0" style="stroke-width:0.85px">0.2</text><line x1="87.95" y1="227.71" x2="92.55" y2="227.71" stroke-width="1.8"/><text transform="translate(79.95 233.96) scale(0.905 1)" text-anchor="end" font-size="17.0" style="stroke-width:0.85px">0.4</text><line x1="87.95" y1="162.74" x2="92.55" y2="162.74" stroke-width="1.8"/><text transform="translate(79.95 168.99) scale(0.905 1)" text-anchor="end" font-size="17.0" style="stroke-width:0.85px">0.6</text><line x1="87.95" y1="97.77" x2="92.55" y2="97.77" stroke-width="1.8"/><text transform="translate(79.95 104.02) scale(0.905 1)" text-anchor="end" font-size="17.0" style="stroke-width:0.85px">0.8</text><line x1="87.95" y1="32.80" x2="92.55" y2="32.80" stroke-width="1.8"/><text transform="translate(79.95 39.05) scale(0.905 1)" text-anchor="end" font-size="17.0" style="stroke-width:0.85px">1.0</text><line x1="92.55" y1="357.65" x2="92.55" y2="362.75" stroke-width="1.8"/><text transform="translate(92.75 385.25) scale(0.905 1)" text-anchor="middle" font-size="17.0" style="stroke-width:0.85px">0</text><line x1="208.91" y1="357.65" x2="208.91" y2="362.75" stroke-width="1.8"/><text transform="translate(209.11 385.25) scale(0.905 1)" text-anchor="middle" font-size="17.0" style="stroke-width:0.85px">20</text><line x1="325.27" y1="357.65" x2="325.27" y2="362.75" stroke-width="1.8"/><text transform="translate(325.47 385.25) scale(0.905 1)" text-anchor="middle" font-size="17.0" style="stroke-width:0.85px">40</text><line x1="441.64" y1="357.65" x2="441.64" y2="362.75" stroke-width="1.8"/><text transform="translate(441.84 385.25) scale(0.905 1)" text-anchor="middle" font-size="17.0" style="stroke-width:0.85px">60</text><line x1="558.00" y1="357.65" x2="558.00" y2="362.75" stroke-width="1.8"/><text transform="translate(558.20 385.25) scale(0.905 1)" text-anchor="middle" font-size="17.0" style="stroke-width:0.85px">80</text>
<line x1="87.95" y1="733.30" x2="92.55" y2="733.30" stroke-width="1.8"/><text transform="translate(79.95 739.55) scale(0.905 1)" text-anchor="end" font-size="17.0" style="stroke-width:0.85px">0.0</text><line x1="87.95" y1="667.96" x2="92.55" y2="667.96" stroke-width="1.8"/><text transform="translate(79.95 674.21) scale(0.905 1)" text-anchor="end" font-size="17.0" style="stroke-width:0.85px">0.2</text><line x1="87.95" y1="602.62" x2="92.55" y2="602.62" stroke-width="1.8"/><text transform="translate(79.95 608.87) scale(0.905 1)" text-anchor="end" font-size="17.0" style="stroke-width:0.85px">0.4</text><line x1="87.95" y1="537.28" x2="92.55" y2="537.28" stroke-width="1.8"/><text transform="translate(79.95 543.53) scale(0.905 1)" text-anchor="end" font-size="17.0" style="stroke-width:0.85px">0.6</text><line x1="87.95" y1="471.94" x2="92.55" y2="471.94" stroke-width="1.8"/><text transform="translate(79.95 478.19) scale(0.905 1)" text-anchor="end" font-size="17.0" style="stroke-width:0.85px">0.8</text><line x1="87.95" y1="406.60" x2="92.55" y2="406.60" stroke-width="1.8"/><text transform="translate(79.95 412.85) scale(0.905 1)" text-anchor="end" font-size="17.0" style="stroke-width:0.85px">1.0</text><line x1="92.55" y1="733.30" x2="92.55" y2="738.40" stroke-width="1.8"/><text transform="translate(92.75 760.90) scale(0.905 1)" text-anchor="middle" font-size="17.0" style="stroke-width:0.85px">0</text><line x1="209.84" y1="733.30" x2="209.84" y2="738.40" stroke-width="1.8"/><text transform="translate(210.04 760.90) scale(0.905 1)" text-anchor="middle" font-size="17.0" style="stroke-width:0.85px">20</text><line x1="327.12" y1="733.30" x2="327.12" y2="738.40" stroke-width="1.8"/><text transform="translate(327.32 760.90) scale(0.905 1)" text-anchor="middle" font-size="17.0" style="stroke-width:0.85px">40</text><line x1="444.41" y1="733.30" x2="444.41" y2="738.40" stroke-width="1.8"/><text transform="translate(444.61 760.90) scale(0.905 1)" text-anchor="middle" font-size="17.0" style="stroke-width:0.85px">60</text><line x1="561.70" y1="733.30" x2="561.70" y2="738.40" stroke-width="1.8"/><text transform="translate(561.90 760.90) scale(0.905 1)" text-anchor="middle" font-size="17.0" style="stroke-width:0.85px">80</text>
<line x1="88.90" y1="1110.40" x2="93.50" y2="1110.40" stroke-width="1.8"/><text transform="translate(80.90 1116.65) scale(0.905 1)" text-anchor="end" font-size="17.0" style="stroke-width:0.85px">0</text><line x1="88.90" y1="1028.61" x2="93.50" y2="1028.61" stroke-width="1.8"/><text transform="translate(80.90 1034.86) scale(0.905 1)" text-anchor="end" font-size="17.0" style="stroke-width:0.85px">5</text><line x1="88.90" y1="946.83" x2="93.50" y2="946.83" stroke-width="1.8"/><text transform="translate(80.90 953.08) scale(0.905 1)" text-anchor="end" font-size="17.0" style="stroke-width:0.85px">10</text><line x1="88.90" y1="865.04" x2="93.50" y2="865.04" stroke-width="1.8"/><text transform="translate(80.90 871.29) scale(0.905 1)" text-anchor="end" font-size="17.0" style="stroke-width:0.85px">15</text><line x1="88.90" y1="783.25" x2="93.50" y2="783.25" stroke-width="1.8"/><text transform="translate(80.90 789.50) scale(0.905 1)" text-anchor="end" font-size="17.0" style="stroke-width:0.85px">20</text><line x1="93.50" y1="1110.40" x2="93.50" y2="1115.50" stroke-width="1.8"/><text transform="translate(93.70 1138.00) scale(0.905 1)" text-anchor="middle" font-size="17.0" style="stroke-width:0.85px">0</text><line x1="210.75" y1="1110.40" x2="210.75" y2="1115.50" stroke-width="1.8"/><text transform="translate(210.95 1138.00) scale(0.905 1)" text-anchor="middle" font-size="17.0" style="stroke-width:0.85px">20</text><line x1="328.00" y1="1110.40" x2="328.00" y2="1115.50" stroke-width="1.8"/><text transform="translate(328.20 1138.00) scale(0.905 1)" text-anchor="middle" font-size="17.0" style="stroke-width:0.85px">40</text><line x1="445.25" y1="1110.40" x2="445.25" y2="1115.50" stroke-width="1.8"/><text transform="translate(445.45 1138.00) scale(0.905 1)" text-anchor="middle" font-size="17.0" style="stroke-width:0.85px">60</text><line x1="562.50" y1="1110.40" x2="562.50" y2="1115.50" stroke-width="1.8"/><text transform="translate(562.70 1138.00) scale(0.905 1)" text-anchor="middle" font-size="17.0" style="stroke-width:0.85px">80</text>
</g>
<text transform="translate(39.80 195.30) rotate(-90)" text-anchor="middle" font-size="14.2" textLength="283.9" lengthAdjust="spacingAndGlyphs" style="stroke-width:0.8px">Frequencies of genotypes among females</text>
<text transform="translate(39.80 569.60) rotate(-90)" text-anchor="middle" font-size="14.2" textLength="251.4" lengthAdjust="spacingAndGlyphs" style="stroke-width:0.8px">Frequency of genotype among males</text>
<text transform="translate(46.00 946.20) rotate(-90)" text-anchor="middle" font-size="15.4" textLength="192.5" lengthAdjust="spacingAndGlyphs" style="stroke-width:0.8px">Number of females per male</text>
<text x="328.3" y="1169.4" text-anchor="middle" font-size="15.6" textLength="83.0" lengthAdjust="spacingAndGlyphs">Generations</text>
<text x="501.3" y="79.7" font-size="36">A</text>
<text x="501.5" y="451" font-size="36">B</text>
<text x="501.5" y="834" font-size="36">C</text>
<text transform="translate(123.80 60.80) scale(0.938 1)" text-anchor="start" font-size="23.4" style="stroke-width:0.90px">U++</text>
<text transform="translate(252.30 60.80) scale(0.938 1)" text-anchor="start" font-size="23.4" style="stroke-width:0.90px">I++</text>
<text transform="translate(354.80 60.80) scale(0.938 1)" text-anchor="start" font-size="23.4" style="stroke-width:0.90px">Inn</text>
<text transform="translate(368.00 272.20) scale(0.938 1)" text-anchor="start" font-size="23.4" style="stroke-width:0.90px">In+</text>
<text transform="translate(288.50 444.00) scale(0.938 1)" text-anchor="middle" font-size="23.4" style="stroke-width:1.10px">+</text>
<text transform="translate(365.60 444.00) scale(0.938 1)" text-anchor="middle" font-size="23.4" style="stroke-width:1.10px">n</text>
<text x="362" y="843" font-size="16">All females</text>
<text x="362" y="861.3" font-size="16">(nn, n+ and ++)</text>
<text x="370.5" y="984.9" font-size="16">Females that still</text>
<text x="370.5" y="1003.5" font-size="16">fertilize their eggs</text>
<text x="370.5" y="1022.1" font-size="16">(n+ and ++)</text>
</g></svg>
</body></html>
